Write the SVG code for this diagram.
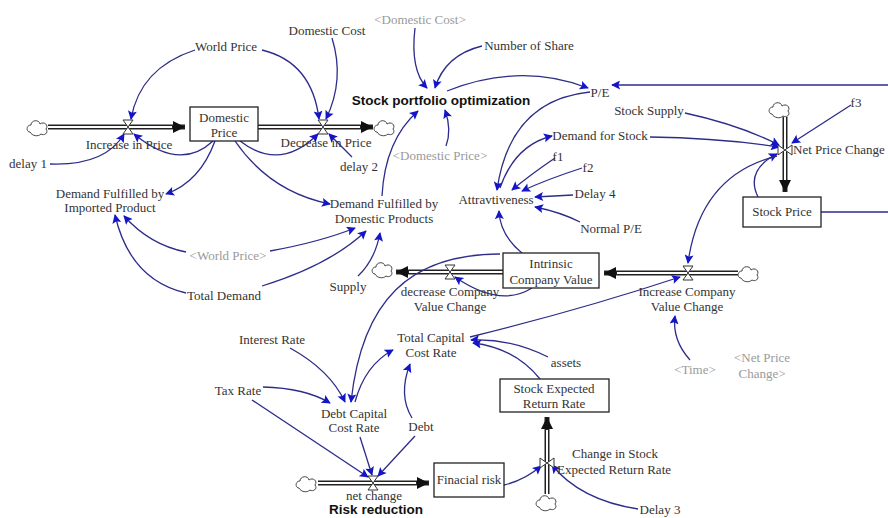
<svg xmlns="http://www.w3.org/2000/svg" width="888" height="518" viewBox="0 0 888 518">
<style>
.t{font-family:"Liberation Serif","Times New Roman",serif;font-size:13px;fill:#333;text-anchor:middle}
.g{fill:#9a9a9a}
.b{font-family:"Liberation Sans",Arial,sans-serif;font-size:13.5px;font-weight:bold;fill:#111;text-anchor:middle}
.box{fill:#fff;stroke:#222;stroke-width:1.3}
.lk{fill:none;stroke:#2c2c8a;stroke-width:1.3;marker-end:url(#a)}
.po{fill:none;stroke:#222;stroke-width:5}
.pi{fill:none;stroke:#fff;stroke-width:2}
.v{fill:#fff;stroke:#333;stroke-width:1}
.cl{fill:#fff;stroke:#444;stroke-width:1}
</style>
<defs>
<marker id="a" viewBox="0 0 10 10" refX="9" refY="5" markerWidth="13" markerHeight="9" orient="auto-start-reverse" markerUnits="userSpaceOnUse"><path d="M0,0 L10,5 L0,10 L2,5 Z" fill="#1515c8"/></marker>
<marker id="f" viewBox="0 0 10 10" refX="10" refY="5" markerWidth="18" markerHeight="12" orient="auto" markerUnits="userSpaceOnUse"><path d="M0,0 L10,5 L0,10 Z" fill="#111"/></marker>
<symbol id="cloud" viewBox="-12 -9 24 18" overflow="visible"><path class="cl" d="M-8,4 C-12,4 -12,-3 -7,-3 C-7,-8 1,-9 2,-4 C6,-7 11,-3 8,1 C11,5 6,8 3,6 C0,9 -6,8 -8,4 Z"/></symbol>
<path id="vh" class="v" d="M-5,-7 H5 L-5,7 H5 Z"/>
<path id="vv" class="v" d="M-7,-5 V5 L7,-5 V5 Z"/>
</defs>

<g id="flows">
<path class="po" d="M48,127 H185" marker-end="url(#f)"/><path class="pi" d="M48,127 H172"/>
<path class="po" d="M258,127 H373" marker-end="url(#f)"/><path class="pi" d="M258,127 H360"/>
<path class="po" d="M785,117 V192" marker-end="url(#f)"/><path class="pi" d="M785,117 V180"/>
<path class="po" d="M738,273 H604" marker-end="url(#f)"/><path class="pi" d="M738,273 H617"/>
<path class="po" d="M503,272 H396" marker-end="url(#f)"/><path class="pi" d="M503,272 H409"/>
<path class="po" d="M318,483 H429" marker-end="url(#f)"/><path class="pi" d="M318,483 H416"/>
<path class="po" d="M547,494 V417" marker-end="url(#f)"/><path class="pi" d="M547,494 V430"/>
<use href="#cloud" x="26" y="119" width="24" height="18"/>
<use href="#cloud" x="373" y="119" width="24" height="18"/>
<use href="#cloud" x="768" y="101" width="24" height="18"/>
<use href="#cloud" x="737" y="265" width="24" height="18"/>
<use href="#cloud" x="371" y="261" width="24" height="18"/>
<use href="#cloud" x="295" y="475" width="24" height="18"/>
<use href="#cloud" x="535" y="494" width="24" height="18"/>
</g>

<g id="links">
<path class="lk" d="M195,50 Q140,68 131,119"/>
<path class="lk" d="M262,50 Q312,62 319,119"/>
<path class="lk" d="M332,38 Q345,80 326,119"/>
<path class="lk" d="M50,164 Q105,166 124,134"/>
<path class="lk" d="M213,141 Q180,172 134,134"/>
<path class="lk" d="M240,141 Q280,172 318,134"/>
<path class="lk" d="M352,157 Q340,145 329,134"/>
<path class="lk" d="M215,141 Q200,182 166,194"/>
<path class="lk" d="M235,141 Q270,192 330,204"/>
<path class="lk" d="M186,252 Q150,245 124,216"/>
<path class="lk" d="M270,251 Q320,242 355,228"/>
<path class="lk" d="M186,293 Q130,280 115,215"/>
<path class="lk" d="M262,286 Q330,265 366,231"/>
<path class="lk" d="M358,276 Q375,260 380,233"/>
<path class="lk" d="M382,196 Q385,140 418,111"/>
<path class="lk" d="M415,28 Q410,70 427,88"/>
<path class="lk" d="M482,46 Q445,55 435,88"/>
<path class="lk" d="M446,146 Q452,130 445,110"/>
<path class="lk" d="M447,91 Q520,62 588,88"/>
<path class="lk" d="M590,92 Q510,100 497,190"/>
<path class="lk" d="M500,188 Q515,145 552,136"/>
<path class="lk" d="M555,158 Q530,175 512,190"/>
<path class="lk" d="M582,168 Q545,180 522,191"/>
<path class="lk" d="M573,195 L535,197"/>
<path class="lk" d="M580,222 Q560,212 535,207"/>
<path class="lk" d="M522,253 Q500,235 499,211"/>
<path class="lk" d="M650,137 Q720,138 779,147"/>
<path class="lk" d="M685,113 Q740,125 779,145"/>
<path class="lk" d="M851,105 Q820,125 792,143"/>
<path class="lk" d="M758,197 Q745,170 777,154"/>
<path class="lk" d="M777,156 Q700,175 688,263"/>
<path fill="none" stroke="#2c2c8a" stroke-width="1.3" d="M821,212 L888,212"/>
<path class="lk" d="M888,85 L612,85"/>
<path class="lk" d="M470,337 Q580,310 680,277"/>
<path class="lk" d="M690,360 Q672,340 675,316"/>
<path class="lk" d="M532,288 Q500,308 455,277"/>
<path class="lk" d="M500,254 C410,254 362,300 351,402"/>
<path class="lk" d="M290,348 Q330,370 345,402"/>
<path class="lk" d="M263,387 Q305,388 330,403"/>
<path class="lk" d="M252,400 L368,477"/>
<path class="lk" d="M360,437 L372,475"/>
<path class="lk" d="M415,436 L378,476"/>
<path class="lk" d="M412,418 Q398,395 410,364"/>
<path class="lk" d="M355,402 Q365,365 393,350"/>
<path class="lk" d="M548,357 Q510,338 471,340"/>
<path class="lk" d="M540,379 Q515,348 473,343"/>
<path class="lk" d="M504,485 Q525,480 541,466"/>
<path class="lk" d="M638,509 Q580,500 552,465"/>
</g>

<g id="valves">
<use href="#vh" x="128" y="127"/>
<use href="#vh" x="323" y="127"/>
<use href="#vv" x="785" y="150"/>
<use href="#vh" x="688" y="273"/>
<use href="#vh" x="450" y="272"/>
<use href="#vh" x="373" y="483"/>
<use href="#vv" x="547" y="463"/>
</g>

<g id="domestic-price"><rect class="box" x="190" y="107" width="68" height="34"/><text class="t" x="224" y="122">Domestic</text><text class="t" x="224" y="137">Price</text></g>
<g id="stock-price"><rect class="box" x="743" y="197" width="78" height="30"/><text class="t" x="782" y="216">Stock Price</text></g>
<g id="intrinsic"><rect class="box" x="503" y="253" width="96" height="35"/><text class="t" x="551" y="268">Intrinsic</text><text class="t" x="551" y="284">Company Value</text></g>
<g id="stock-expected"><rect class="box" x="500" y="379" width="109" height="33"/><text class="t" x="554" y="393">Stock Expected</text><text class="t" x="554" y="408">Return Rate</text></g>
<g id="finacial-risk"><rect class="box" x="434" y="463" width="70" height="34"/><text class="t" x="469" y="484">Finacial risk</text></g>

<g id="increase-in-price"><text class="t" x="129" y="149">Increase in Price</text></g>
<g id="decrease-in-price"><text class="t" x="326" y="147">Decrease in Price</text></g>
<g id="net-price-change"><text class="t" x="793" y="154" style="text-anchor:start">Net Price Change</text></g>
<g id="increase-company"><text class="t" x="687" y="296">Increase Company</text><text class="t" x="687" y="311">Value Change</text></g>
<g id="decrease-company"><text class="t" x="450" y="296">decrease Company</text><text class="t" x="450" y="311">Value Change</text></g>
<g id="net-change"><text class="t" x="374" y="500">net change</text></g>
<g id="change-stock"><text class="t" x="615" y="458">Change in Stock</text><text class="t" x="614" y="474">Expected Return Rate</text></g>

<g id="world-price"><text class="t" x="226" y="51">World Price</text></g>
<g id="domestic-cost"><text class="t" x="327" y="35">Domestic Cost</text></g>
<g id="domestic-cost-shadow"><text class="t g" x="420" y="24">&lt;Domestic Cost&gt;</text></g>
<g id="number-of-share"><text class="t" x="529" y="50">Number of Share</text></g>
<g id="spo"><text class="b" x="441" y="105">Stock portfolio optimization</text></g>
<g id="pe"><text class="t" x="600" y="97">P/E</text></g>
<g id="delay1"><text class="t" x="28" y="168">delay 1</text></g>
<g id="delay2"><text class="t" x="359" y="171">delay 2</text></g>
<g id="domestic-price-shadow"><text class="t g" x="440" y="160">&lt;Domestic Price&gt;</text></g>
<g id="demand-for-stock"><text class="t" x="600" y="140">Demand for Stock</text></g>
<g id="f1"><text class="t" x="558" y="161">f1</text></g>
<g id="f2"><text class="t" x="588" y="172">f2</text></g>
<g id="delay4"><text class="t" x="595" y="198">Delay 4</text></g>
<g id="attr"><text class="t" x="496" y="204">Attravtiveness</text></g>
<g id="normal-pe"><text class="t" x="611" y="233">Normal P/E</text></g>
<g id="stock-supply"><text class="t" x="649" y="115">Stock Supply</text></g>
<g id="f3"><text class="t" x="856" y="107">f3</text></g>
<g id="dfi"><text class="t" x="110" y="198">Demand Fulfilled by</text><text class="t" x="110" y="212">Imported Product</text></g>
<g id="dfd"><text class="t" x="384" y="208">Demand Fulfilled by</text><text class="t" x="384" y="223">Domestic Products</text></g>
<g id="world-price-shadow"><text class="t g" x="228" y="260">&lt;World Price&gt;</text></g>
<g id="total-demand"><text class="t" x="224" y="300">Total Demand</text></g>
<g id="supply"><text class="t" x="348" y="291">Supply</text></g>
<g id="tccr"><text class="t" x="431" y="342">Total Capital</text><text class="t" x="431" y="357">Cost Rate</text></g>
<g id="assets"><text class="t" x="566" y="367">assets</text></g>
<g id="time"><text class="t g" x="695" y="374">&lt;Time&gt;</text></g>
<g id="npc-shadow"><text class="t g" x="762" y="362">&lt;Net Price</text><text class="t g" x="762" y="378">Change&gt;</text></g>
<g id="interest-rate"><text class="t" x="272" y="344">Interest Rate</text></g>
<g id="tax-rate"><text class="t" x="238" y="395">Tax Rate</text></g>
<g id="dccr"><text class="t" x="354" y="418">Debt Capital</text><text class="t" x="354" y="432">Cost Rate</text></g>
<g id="debt"><text class="t" x="421" y="431">Debt</text></g>
<g id="risk-reduction"><text class="b" x="376" y="514">Risk reduction</text></g>
<g id="delay3"><text class="t" x="660" y="514">Delay 3</text></g>
</svg>
